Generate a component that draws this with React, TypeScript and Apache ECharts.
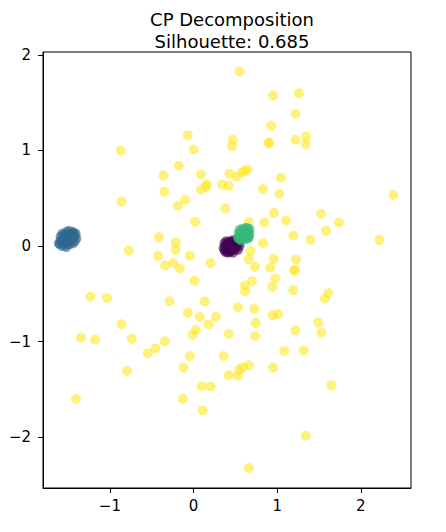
import React, { useEffect, useRef } from "react";
import * as echarts from "echarts";

const TITLE_LINES = ["CP Decomposition", "Silhouette: 0.685"];
const X_TICKS = [-1, 0, 1, 2];
const Y_TICKS = [-2, -1, 0, 1, 2];
const X_RANGE = [-1.8, 2.6];
const Y_RANGE = [-2.53, 2.03];

// viridis colours for cluster labels 0..3
const COLOR_PURPLE = "#440154";
const COLOR_BLUE = "#31688e";
const COLOR_GREEN = "#35b779";
const COLOR_YELLOW = "#fde725";

const YELLOW_POINTS: number[][] = [
  [-0.87, 1.0], [-0.07, 1.16], [0.0, 1.01], [-0.18, 0.84], [-0.36, 0.74],
  [0.09, 0.75], [-0.35, 0.57], [0.09, 0.59], [0.16, 0.645], [0.15, 0.62],
  [0.34, 0.645], [0.43, 0.757], [0.42, 0.628], [-0.86, 0.465], [-0.1, 0.485],
  [0.55, 1.825], [0.95, 1.574], [1.26, 1.598], [1.22, 1.385], [0.93, 1.26],
  [0.47, 1.113], [0.46, 1.047], [0.905, 1.083], [0.895, 1.075], [1.22, 1.113],
  [1.345, 1.145], [1.34, 1.064], [0.515, 0.725], [0.578, 0.771], [0.611, 0.785],
  [0.647, 0.799], [1.046, 0.715], [0.83, 0.597], [1.025, 0.548], [2.39, 0.534],
  [-0.188, 0.422], [0.38, 0.394], [0.019, 0.254], [-0.416, 0.094], [-0.212, 0.038],
  [-0.216, -0.039], [-0.775, -0.046], [-0.424, -0.102], [-0.044, -0.102], [-0.34, -0.203],
  [-0.244, -0.178], [-0.164, -0.234], [0.204, -0.178], [0.012, -0.363], [-1.234, -0.527],
  [-1.035, -0.541], [-0.287, -0.576], [0.132, -0.58], [-0.068, -0.698], [0.075, -0.74],
  [0.267, -0.74], [0.18, -0.817], [-0.862, -0.817], [0.028, -0.876], [-0.012, -0.929],
  [0.42, -0.918], [-1.346, -0.957], [-1.178, -0.978], [-0.739, -0.967], [-0.344, -0.995],
  [-0.455, -1.07], [-0.547, -1.12], [0.962, 0.345], [1.525, 0.338], [0.662, 0.254],
  [0.846, 0.247], [1.105, 0.268], [1.74, 0.247], [1.584, 0.16], [1.193, 0.111],
  [1.396, 0.066], [2.223, 0.063], [0.83, 0.031], [0.683, -0.052], [0.659, -0.136],
  [0.958, -0.136], [1.225, -0.14], [0.734, -0.217], [0.918, -0.224], [1.21, -0.248],
  [1.205, -0.255], [0.977, -0.339], [0.698, -0.367], [0.614, -0.413], [0.614, -0.471],
  [0.941, -0.426], [1.193, -0.461], [1.612, -0.492], [1.572, -0.549], [0.531, -0.639],
  [0.726, -0.657], [0.946, -0.723], [1.01, -0.709], [0.743, -0.803], [1.489, -0.8],
  [0.738, -0.939], [1.217, -0.88], [1.528, -0.905], [-0.795, -1.306], [-1.406, -1.599],
  [-0.044, -1.149], [-0.12, -1.271], [0.36, -1.149], [0.42, -1.35], [0.096, -1.466],
  [0.204, -1.466], [-0.128, -1.596], [0.108, -1.717], [1.085, -1.096], [1.317, -1.093],
  [0.662, -1.246], [0.587, -1.271], [0.546, -1.292], [0.531, -1.355], [0.95, -1.271],
  [1.648, -1.456], [1.341, -1.983], [0.662, -2.321],
];

const BLUE_POINTS: number[][] = [
  [-1.6, 0.02], [-1.58, 0.04], [-1.57, 0.0], [-1.55, 0.03], [-1.54, 0.06],
  [-1.56, 0.08], [-1.53, 0.01], [-1.52, 0.05], [-1.51, 0.08], [-1.5, 0.1],
  [-1.49, 0.04], [-1.48, 0.07], [-1.47, 0.11], [-1.46, 0.13], [-1.45, 0.09],
  [-1.44, 0.12], [-1.43, 0.14], [-1.42, 0.1], [-1.53, 0.11], [-1.5, 0.13],
  [-1.48, 0.02], [-1.46, 0.05], [-1.59, 0.06], [-1.55, 0.12], [-1.41, 0.13],
  [-1.52, 0.15], [-1.45, 0.15], [-1.61, 0.03], [-1.5, 0.06], [-1.47, 0.08],
  [-1.59, 0.1], [-1.57, 0.13], [-1.42, 0.05], [-1.4, 0.08], [-1.44, 0.03],
  [-1.52, -0.01], [-1.49, 0.16],
];

const PURPLE_POINTS: number[][] = [
  [0.37, -0.04], [0.38, -0.06], [0.39, -0.02], [0.4, -0.05], [0.41, 0.0],
  [0.42, -0.03], [0.43, -0.06], [0.43, 0.02], [0.44, -0.01], [0.45, 0.03],
  [0.46, -0.04], [0.47, 0.01], [0.48, 0.04], [0.49, -0.01], [0.5, 0.02],
  [0.51, 0.05], [0.52, 0.0], [0.53, 0.04], [0.4, 0.02], [0.45, -0.05],
  [0.48, -0.03], [0.36, -0.02], [0.42, 0.04], [0.52, 0.07], [0.5, -0.03],
  [0.44, 0.05], [0.38, 0.0], [0.47, 0.06], [0.37, 0.03], [0.39, 0.05],
  [0.53, -0.04], [0.55, 0.0], [0.41, -0.07], [0.54, 0.03], [0.47, -0.07],
];

const GREEN_POINTS: number[][] = [
  [0.54, 0.08], [0.55, 0.1], [0.56, 0.07], [0.57, 0.11], [0.58, 0.09],
  [0.59, 0.13], [0.6, 0.1], [0.61, 0.14], [0.62, 0.12], [0.63, 0.16],
  [0.64, 0.13], [0.65, 0.17], [0.66, 0.15], [0.67, 0.18], [0.56, 0.13],
  [0.58, 0.15], [0.6, 0.17], [0.62, 0.19], [0.63, 0.09], [0.65, 0.11],
  [0.53, 0.09], [0.61, 0.07], [0.64, 0.19], [0.57, 0.06], [0.66, 0.09],
  [0.67, 0.12], [0.54, 0.14], [0.55, 0.17], [0.58, 0.18], [0.65, 0.08],
];

const FONT = "DejaVu Sans";
const fmt = (v: number) => (v < 0 ? "\u2212" + Math.abs(v) : String(v));

function scatter(data: number[][], color: string) {
  return {
    type: "scatter",
    data,
    symbol: "circle",
    symbolSize: 10,
    silent: true,
    itemStyle: { color, opacity: 0.6 },
    emphasis: { disabled: true },
  };
}

export default function App() {
  const ref = useRef<HTMLDivElement>(null);
  useEffect(() => {
    if (!ref.current) return;
    const chart = echarts.init(ref.current, undefined, { renderer: "svg" });
    const axisCommon = {
      type: "value",
      splitLine: { show: false },
      axisLine: { show: true, onZero: false, lineStyle: { color: "#000", width: 1 } },
      axisTick: { show: true, length: 5, lineStyle: { color: "#000", width: 1 } },
    };
    chart.setOption({
      animation: false,
      backgroundColor: "#fff",
      title: {
        text: TITLE_LINES.join("\n"),
        left: 227,
        top: 3,
        textAlign: "center",
        textStyle: {
          fontSize: 18,
          fontWeight: "normal",
          color: "#000",
          fontFamily: FONT,
          lineHeight: 22,
        },
      },
      grid: {
        left: 43,
        right: 35,
        top: 52,
        bottom: 44,
        show: true,
        borderColor: "#000",
        borderWidth: 1,
        backgroundColor: "transparent",
      },
      xAxis: {
        ...axisCommon,
        min: X_RANGE[0],
        max: X_RANGE[1],
        axisTick: { ...axisCommon.axisTick, customValues: X_TICKS },
        axisLabel: {
          customValues: X_TICKS,
          formatter: fmt,
          fontSize: 15,
          color: "#000",
          fontFamily: FONT,
          margin: 10,
        },
      },
      yAxis: {
        ...axisCommon,
        min: Y_RANGE[0],
        max: Y_RANGE[1],
        axisTick: { ...axisCommon.axisTick, customValues: Y_TICKS },
        axisLabel: {
          customValues: Y_TICKS,
          formatter: fmt,
          fontSize: 15,
          color: "#000",
          fontFamily: FONT,
          margin: 12,
        },
      },
      series: [
        scatter(YELLOW_POINTS, COLOR_YELLOW),
        scatter(PURPLE_POINTS, COLOR_PURPLE),
        scatter(GREEN_POINTS, COLOR_GREEN),
        scatter(BLUE_POINTS, COLOR_BLUE),
      ],
    });
    return () => chart.dispose();
  }, []);
  return (
    <div
      ref={ref}
      style={{ position: "fixed", left: 0, top: 0, width: 446, height: 532 }}
    />
  );
}
